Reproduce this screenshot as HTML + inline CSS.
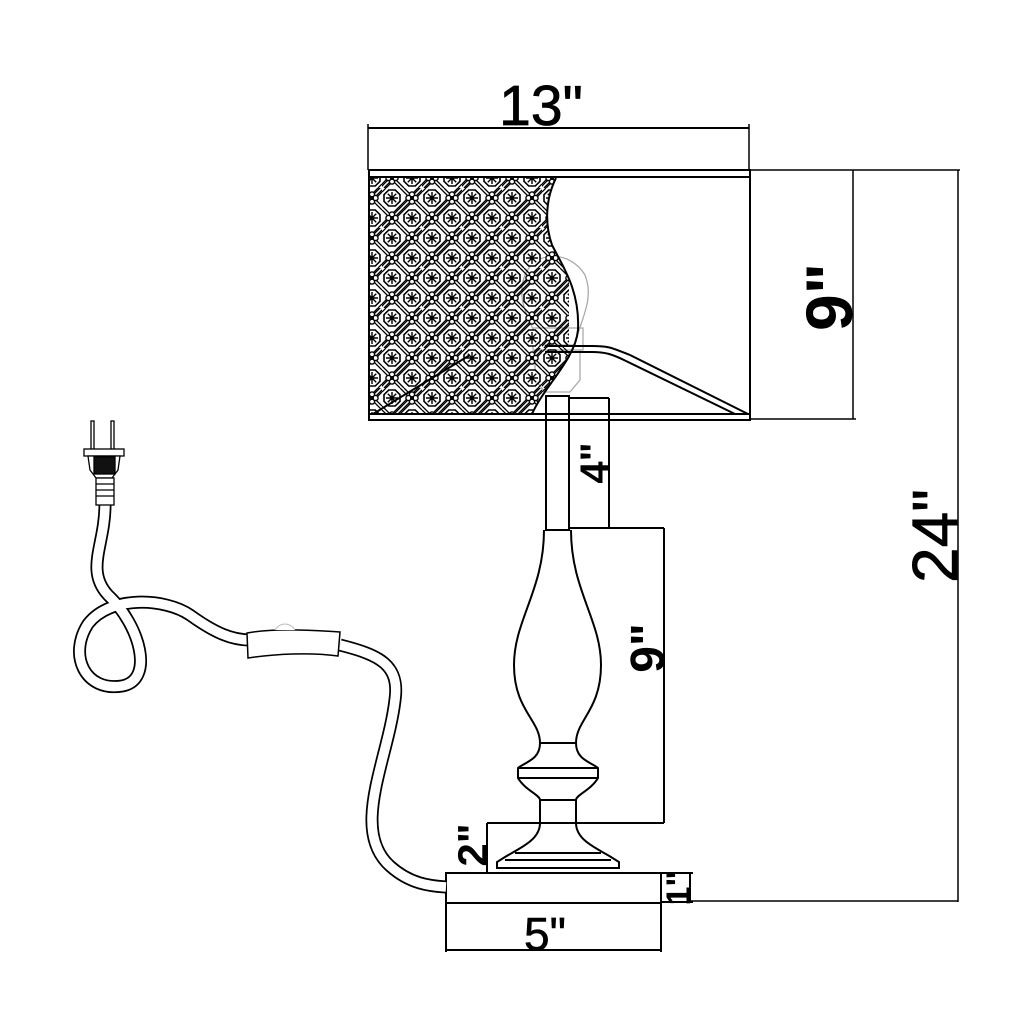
<!DOCTYPE html>
<html><head><meta charset="utf-8"><style>
html,body{margin:0;padding:0;background:#fff;}
svg{display:block;}
text{font-family:"Liberation Sans",Arial,sans-serif;fill:#000;}
</style></head><body>
<svg width="1024" height="1024" viewBox="0 0 1024 1024" xmlns="http://www.w3.org/2000/svg">
<defs>
<g id="ros">
  <polygon points="-3.3,-8 3.3,-8 8,-3.3 8,3.3 3.3,8 -3.3,8 -8,3.3 -8,-3.3" fill="#fff" stroke="#000" stroke-width="1.6"/>
  <path d="M-6,0 H6 M0,-6 V6 M-4.2,-4.2 L4.2,4.2 M4.2,-4.2 L-4.2,4.2" stroke="#000" stroke-width="1.4"/>
  <circle r="1.8" fill="#000"/>
</g>
<g id="clo">
  <circle cx="0" cy="-3.5" r="2.6" fill="#fff" stroke="#000" stroke-width="1.4"/>
  <circle cx="0" cy="3.5" r="2.6" fill="#fff" stroke="#000" stroke-width="1.4"/>
  <circle cx="-3.5" cy="0" r="2.6" fill="#fff" stroke="#000" stroke-width="1.4"/>
  <circle cx="3.5" cy="0" r="2.6" fill="#fff" stroke="#000" stroke-width="1.4"/>
  <circle r="2" fill="#000"/>
</g>
<pattern id="pt" x="382" y="188" width="40" height="40" patternUnits="userSpaceOnUse">
  <g fill="none" stroke="#000" stroke-width="1.3">
    <path d="M-2,40 L40,-2 M2,40 L40,2 M0,44 L44,0 M-4,40 L40,-4"/>
    <path d="M18,0 L40,22 M22,0 L40,18 M0,18 L22,40 M0,22 L18,40"/>
    <path d="M36,40 L40,36 M0,4 L4,0"/>
  </g>
  <use href="#ros" x="10" y="10"/>
  <use href="#ros" x="30" y="30"/>
  <use href="#clo" x="30" y="10"/>
  <use href="#clo" x="10" y="30"/>
</pattern>
<clipPath id="cp"><path d="M369,178 L556,178 C545,200 545,225 552,245 C562,265 580,290 578,330 C575,360 545,385 532,414 L369,414 Z"/></clipPath>
</defs>

<!-- 13" dimension -->
<text x="541" y="125" font-size="57" text-anchor="middle" stroke="#000" stroke-width="0.8">13"</text>
<line x1="368" y1="128" x2="749" y2="128" stroke="#000" stroke-width="2"/>
<line x1="368" y1="124" x2="368" y2="170" stroke="#000" stroke-width="1.5"/>
<line x1="749" y1="124" x2="749" y2="170" stroke="#000" stroke-width="1.5"/>

<!-- bulb -->
<g fill="none" stroke="#aaa" stroke-width="1.3">
  <path d="M540,345 C530,320 515,300 525,275 C535,250 570,250 585,275 C595,300 580,320 575,345 Z"/>
  <rect x="533" y="328" width="50" height="22"/>
  <path d="M535,350 L535,380 L545,392 L570,392 L580,380 L580,350"/>
</g>

<!-- shade pattern -->
<rect x="369" y="178" width="200" height="236" fill="url(#pt)" clip-path="url(#cp)"/>
<path d="M556,178 C545,200 545,225 552,245 C562,265 580,290 578,330 C575,360 545,385 532,414" fill="none" stroke="#000" stroke-width="2"/>

<!-- shade outline -->
<g fill="none" stroke="#000" stroke-width="2">
  <rect x="369" y="170" width="381" height="250"/>
  <line x1="369" y1="177" x2="750" y2="177"/>
  <line x1="369" y1="414" x2="750" y2="414"/>
  <path d="M545,346 L592,346 C610,346 612,348 630,355 L748,414"/>
  <path d="M545,352 L592,352 C605,352 612,354 626,361 L735,414"/>
  <line x1="373" y1="414" x2="470" y2="355"/>
</g>

<!-- shade 9" -->
<g stroke="#000" stroke-width="1.5" fill="none">
  <line x1="750" y1="170" x2="960" y2="170"/>
  <line x1="750" y1="419" x2="856" y2="419"/>
  <line x1="853" y1="170" x2="853" y2="419"/>
  <line x1="958" y1="170" x2="958" y2="902"/>
  <line x1="690" y1="901" x2="958" y2="901"/>
</g>
<text transform="translate(852,297) rotate(-90)" font-size="66" font-weight="bold" text-anchor="middle">9"</text>
<text transform="translate(957,536) rotate(-90)" font-size="64" text-anchor="middle" stroke="#000" stroke-width="0.8">24"</text>

<!-- stem -->
<g fill="none" stroke="#000" stroke-width="2">
  <rect x="546" y="396" width="23" height="134"/>
  <line x1="569" y1="398" x2="609" y2="398"/>
  <line x1="609" y1="398" x2="609" y2="528"/>
  <line x1="569" y1="528" x2="664" y2="528"/>
</g>
<text transform="translate(608,463) rotate(-90)" font-size="40" font-weight="bold" text-anchor="middle">4"</text>

<!-- vase -->
<g fill="none" stroke="#000" stroke-width="2">
  <path d="M544,530 C544,590 514,620 514,665 C514,710 540,720 540,743 C540,760 525,762 518,768 L518,778 C525,790 540,795 540,800 L540,823 C540,840 520,848 505,857 L497,862 L497,868 L619,868 L619,862 L611,857 C596,848 576,840 576,823 L576,800 C576,795 591,790 598,778 L598,768 C591,762 576,760 576,743 C576,720 601,710 601,665 C601,620 571,590 571,530"/>
  <line x1="540" y1="743" x2="576" y2="743"/>
  <line x1="518" y1="768" x2="598" y2="768"/>
  <line x1="518" y1="778" x2="598" y2="778"/>
  <line x1="540" y1="800" x2="576" y2="800"/>
  <line x1="515" y1="853" x2="601" y2="853"/>
  <line x1="505" y1="860" x2="611" y2="860"/>
  <line x1="664" y1="528" x2="664" y2="823"/>
  <line x1="487" y1="823" x2="664" y2="823"/>
  <line x1="487" y1="823" x2="487" y2="873"/>
  <rect x="446" y="873" width="215" height="30"/>
  <line x1="661" y1="873" x2="693" y2="873"/>
  <line x1="661" y1="902" x2="693" y2="902"/>
  <line x1="690" y1="873" x2="690" y2="902"/>
  <line x1="446" y1="903" x2="446" y2="952"/>
  <line x1="661" y1="903" x2="661" y2="952"/>
  <line x1="446" y1="950" x2="661" y2="950"/>
</g>
<text transform="translate(664,648) rotate(-90)" font-size="48" font-weight="bold" text-anchor="middle">9"</text>
<text transform="translate(487,845) rotate(-90)" font-size="42" font-weight="bold" text-anchor="middle">2"</text>
<text transform="translate(690,888) rotate(-90)" font-size="34" font-weight="bold" text-anchor="middle">1"</text>
<text x="545" y="950" font-size="46" text-anchor="middle" stroke="#000" stroke-width="0.6">5"</text>

<!-- cord -->
<path id="cord" d="M105,505 C105,545 85,570 108,595 C140,625 155,680 122,686 C85,692 68,655 88,624 C110,595 165,598 190,615 C215,633 232,640 250,640 M340,645 C380,655 400,665 395,700 C388,760 350,830 390,866 C410,884 430,886 446,887" fill="none" stroke="#000" stroke-width="13" stroke-linecap="butt"/>
<path d="M105,505 C105,545 85,570 108,595 C140,625 155,680 122,686 C85,692 68,655 88,624 C110,595 165,598 190,615 C215,633 232,640 250,640 M340,645 C380,655 400,665 395,700 C388,760 350,830 390,866 C410,884 430,886 446,887" fill="none" stroke="#fff" stroke-width="9.5" stroke-linecap="butt"/>
<!-- switch -->
<path d="M247,633 C275,628 310,630 340,632 L338,656 C310,652 275,654 248,658 Z" fill="#fff" stroke="#000" stroke-width="1.5"/>
<path d="M275,630 C280,622 290,622 295,630" fill="#fff" stroke="#bbb" stroke-width="1"/>

<!-- plug -->
<g stroke="#000" stroke-width="1.3">
  <rect x="91" y="421" width="3" height="30" fill="#fff"/>
  <rect x="111" y="421" width="3" height="30" fill="#fff"/>
  <rect x="84" y="449" width="40" height="7" fill="#fff"/>
  <path d="M88,456 L120,456 L118,470 L112,478 L96,478 L90,470 Z" fill="#fff"/>
  <rect x="94" y="457" width="21" height="17" fill="#111"/>
  <rect x="96" y="478" width="18" height="27" fill="#fff"/>
  <line x1="96" y1="484" x2="114" y2="484"/>
  <line x1="96" y1="490" x2="114" y2="490"/>
  <line x1="96" y1="496" x2="114" y2="496"/>
</g>
</svg>
</body></html>
